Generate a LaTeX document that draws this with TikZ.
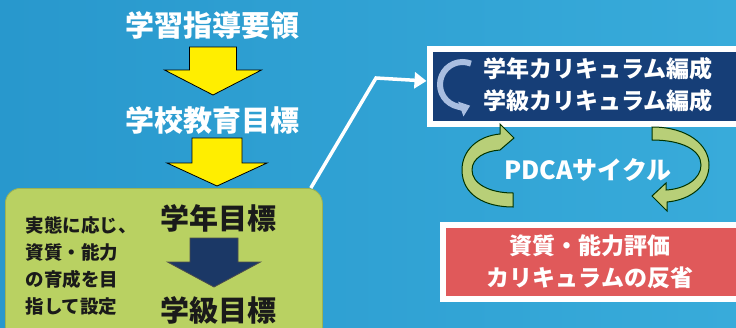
\documentclass[tikz,border=0pt]{standalone}
\usepackage{fontspec}
\setmainfont{Noto Sans CJK JP}
\usetikzlibrary{arrows.meta,calc}
\definecolor{bgL}{HTML}{2898CD}
\definecolor{bgR}{HTML}{38ABDA}
\definecolor{ylw}{HTML}{FFEE00}
\definecolor{lgreen}{HTML}{B9D162}
\definecolor{navy}{HTML}{163E77}
\definecolor{navyarr}{HTML}{1B3866}
\definecolor{redbox}{HTML}{E0595A}
\definecolor{pdcag}{HTML}{B8CF78}
\definecolor{iconblue}{HTML}{A9BEE0}
\definecolor{darktext}{HTML}{1A1A1A}
\tikzset{
  x=1pt, y=1pt,
  wtitle/.style={font=\fontsize{29}{32}\selectfont\bfseries, text=white, inner sep=0pt},
  dtitle/.style={font=\fontsize{29}{32}\selectfont\bfseries, text=darktext, inner sep=0pt},
  notetext/.style={font=\fontsize{18.5}{26.7}\selectfont\bfseries, text=darktext, inner sep=0pt, align=left},
  boxtext/.style={font=\fontsize{23}{32}\selectfont\bfseries, text=white, inner sep=0pt, align=center},
  yarrow/.style={fill=ylw, draw=black, line width=0.8pt, line join=miter},
  narrow/.style={fill=navyarr, draw=black!70, line width=0.8pt, line join=miter},
  framedbox/.style={draw=white, line width=6pt, rectangle, inner sep=0pt, anchor=north west},
  greenbox/.style={fill=lgreen, draw=lgreen!85!black, line width=0.8pt, rounded corners=15pt, rectangle, inner sep=0pt, anchor=north west},
  conn/.style={draw=white, line width=3.5pt, line join=miter, -{Triangle[length=12pt,width=16pt]}},
  pdcaarrow/.style={fill=pdcag, draw=black!80!green, line width=1pt},
}
\newcommand\blockarrow[7]{%
  \path[#1] ({#2-#6},{-#3}) -- ({#2+#6},{-#3}) -- ({#2+#6},{-#4}) -- ({#2+#7},{-#4})
    -- (#2,{-#5}) -- ({#2-#7},{-#4}) -- ({#2-#6},{-#4}) -- cycle;}
\begin{document}
\begin{tikzpicture}
\useasboundingbox (0,0) rectangle (736,-327);
\clip (0,0) rectangle (736,-327);
\shade[left color=bgL, right color=bgR] (0,0) rectangle (736,-327);

% left column
\node[wtitle] (t1) at (212,-25) {学習指導要領};
\node[wtitle] (t2) at (212,-120) {学校教育目標};
\blockarrow{yarrow}{213}{47}{70}{95}{23.5}{48.5}
\blockarrow{yarrow}{217}{138}{163}{186}{25}{50}

\node[greenbox, minimum width=317pt, minimum height=160pt] (goal) at (5,-188) {};
\node[dtitle] (t3) at (218,-218) {学年目標};
\node[dtitle] (t4) at (218,-310) {学級目標};
\blockarrow{narrow}{214}{238}{262}{287}{24}{46.5}
\node[notetext] (note) at (81,-266) {実態に応じ、\\資質・能力\\の育成を目\\指して設定};

% right column boxes
\node[framedbox, fill=navy, minimum width=340pt, minimum height=75pt] (cur) at (426.5,-46) {};
\node[boxtext] (t5) at (598,-85) {学年カリキュラム編成\\学級カリキュラム編成};
\node[framedbox, fill=redbox, minimum width=330pt, minimum height=74pt] (eval) at (439.5,-221.5) {};
\node[boxtext] (t6) at (590,-262) {資質・能力評価\\カリキュラムの反省};

% cycle icon
\draw[iconblue, line width=6pt, -{Triangle[length=10pt,width=15pt]}]
  (462.5,-84.5) ++(68:22.5) arc[start angle=68, end angle=290, radius=22.5];

% connector
\coordinate (bend) at (376,-78);
\draw[conn] ([xshift=-12pt]goal.north east) -- (bend) -- ([yshift=5.5pt]cur.west);

% PDCA
\node[font=\fontsize{25}{28}\selectfont\bfseries, text=white, inner sep=0pt] (pdca) at (588,-170) {PDCAサイクル};
\path[pdcaarrow] (513,-207) .. controls (485,-207) and (462,-195) .. (462,-170)
  .. controls (462,-150) and (478,-136) .. (500,-134)
  -- (500,-124) -- (514,-138) -- (500,-150)
  .. controls (485,-151) and (472,-158) .. (472,-170)
  .. controls (472,-184) and (490,-193) .. (513,-193) -- cycle;
\path[pdcaarrow] (652,-127) .. controls (688,-127) and (709,-145) .. (709,-165)
  .. controls (709,-186) and (690,-200) .. (667,-202)
  -- (667,-211) -- (652,-196) -- (666,-183) -- (666,-190)
  .. controls (685,-189) and (701,-179) .. (701,-165)
  .. controls (701,-150) and (682,-140) .. (652,-140) -- cycle;
\end{tikzpicture}
\end{document}
